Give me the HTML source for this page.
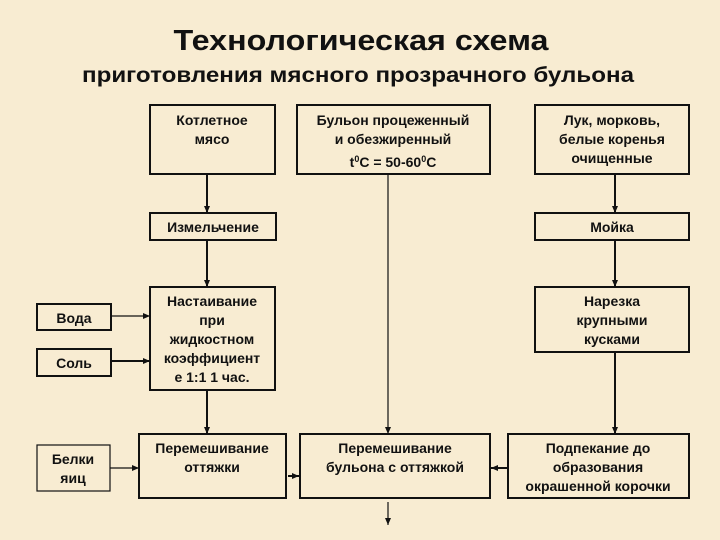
<!DOCTYPE html>
<html><head><meta charset="utf-8"><style>
html,body{margin:0;padding:0;width:720px;height:540px;overflow:hidden;background:#f8ecd2;}
svg{display:block}
text{font-family:"Liberation Sans",sans-serif;font-weight:bold;fill:#111;text-anchor:middle}
.b{font-size:14px}
</style></head><body>
<svg width="720" height="540" viewBox="0 0 720 540">
<defs><marker id="a" markerWidth="8" markerHeight="8" refX="7" refY="4" orient="auto" markerUnits="userSpaceOnUse"><path d="M0,1 L7,4 L0,7 Z" fill="#111"/></marker></defs>
<rect width="720" height="540" fill="#f8ecd2"/>
<text x="361" y="50" font-size="29" textLength="375" lengthAdjust="spacingAndGlyphs">Технологическая схема</text>
<text x="358" y="82" font-size="21" textLength="552" lengthAdjust="spacingAndGlyphs">приготовления мясного прозрачного бульона</text>
<g fill="none" stroke="#111" stroke-width="2">
<rect x="150" y="105" width="125" height="69"/>
<rect x="297" y="105" width="193" height="69"/>
<rect x="535" y="105" width="154" height="69"/>
<rect x="150" y="213" width="126" height="27"/>
<rect x="535" y="213" width="154" height="27"/>
<rect x="150" y="287" width="125" height="103"/>
<rect x="535" y="287" width="154" height="65"/>
<rect x="37" y="304" width="74" height="26"/>
<rect x="37" y="349" width="74" height="27"/>
<rect x="37" y="445" width="73" height="46" stroke-width="1.2"/>
<rect x="139" y="434" width="147" height="64"/>
<rect x="300" y="434" width="190" height="64"/>
<rect x="508" y="434" width="181" height="64"/>
</g>
<g stroke="#111" stroke-width="2" marker-end="url(#a)">
<line x1="207" y1="174" x2="207" y2="213"/>
<line x1="207" y1="240" x2="207" y2="287"/>
<line x1="207" y1="390" x2="207" y2="434"/>
<line x1="615" y1="174" x2="615" y2="213"/>
<line x1="615" y1="240" x2="615" y2="287"/>
<line x1="615" y1="352" x2="615" y2="434"/>
<line x1="111" y1="316" x2="150" y2="316" stroke-width="1.2"/>
<line x1="111" y1="361" x2="150" y2="361"/>
<line x1="110" y1="468" x2="139" y2="468" stroke-width="1.2"/>
<line x1="388" y1="174" x2="388" y2="434" stroke-width="1.2"/>
<line x1="288" y1="476" x2="299" y2="476"/>
<line x1="508" y1="468" x2="491" y2="468"/>
<line x1="388" y1="502" x2="388" y2="525" stroke-width="1.2"/>
</g>
<g class="b">
<text x="212" y="125">Котлетное</text><text x="212" y="144">мясо</text>
<text x="393" y="125">Бульон процеженный</text><text x="393" y="144">и обезжиренный</text>
<text x="393" y="167">t<tspan font-size="9" dy="-5">0</tspan><tspan dy="5">C = 50-60</tspan><tspan font-size="9" dy="-5">0</tspan><tspan dy="5">C</tspan></text>
<text x="612" y="125">Лук, морковь,</text><text x="612" y="144">белые коренья</text><text x="612" y="163">очищенные</text>
<text x="213" y="232">Измельчение</text>
<text x="612" y="232">Мойка</text>
<text x="212" y="306">Настаивание</text><text x="212" y="325">при</text><text x="212" y="344">жидкостном</text><text x="212" y="363">коэффициент</text><text x="212" y="382">е 1:1 1 час.</text>
<text x="612" y="306">Нарезка</text><text x="612" y="325">крупными</text><text x="612" y="344">кусками</text>
<text x="74" y="323">Вода</text>
<text x="74" y="368">Соль</text>
<text x="73" y="464">Белки</text><text x="73" y="483">яиц</text>
<text x="212" y="453">Перемешивание</text><text x="212" y="472">оттяжки</text>
<text x="395" y="453">Перемешивание</text><text x="395" y="472">бульона с оттяжкой</text>
<text x="598" y="453">Подпекание до</text><text x="598" y="472">образования</text><text x="598" y="491">окрашенной корочки</text>
</g>
</svg>
</body></html>
